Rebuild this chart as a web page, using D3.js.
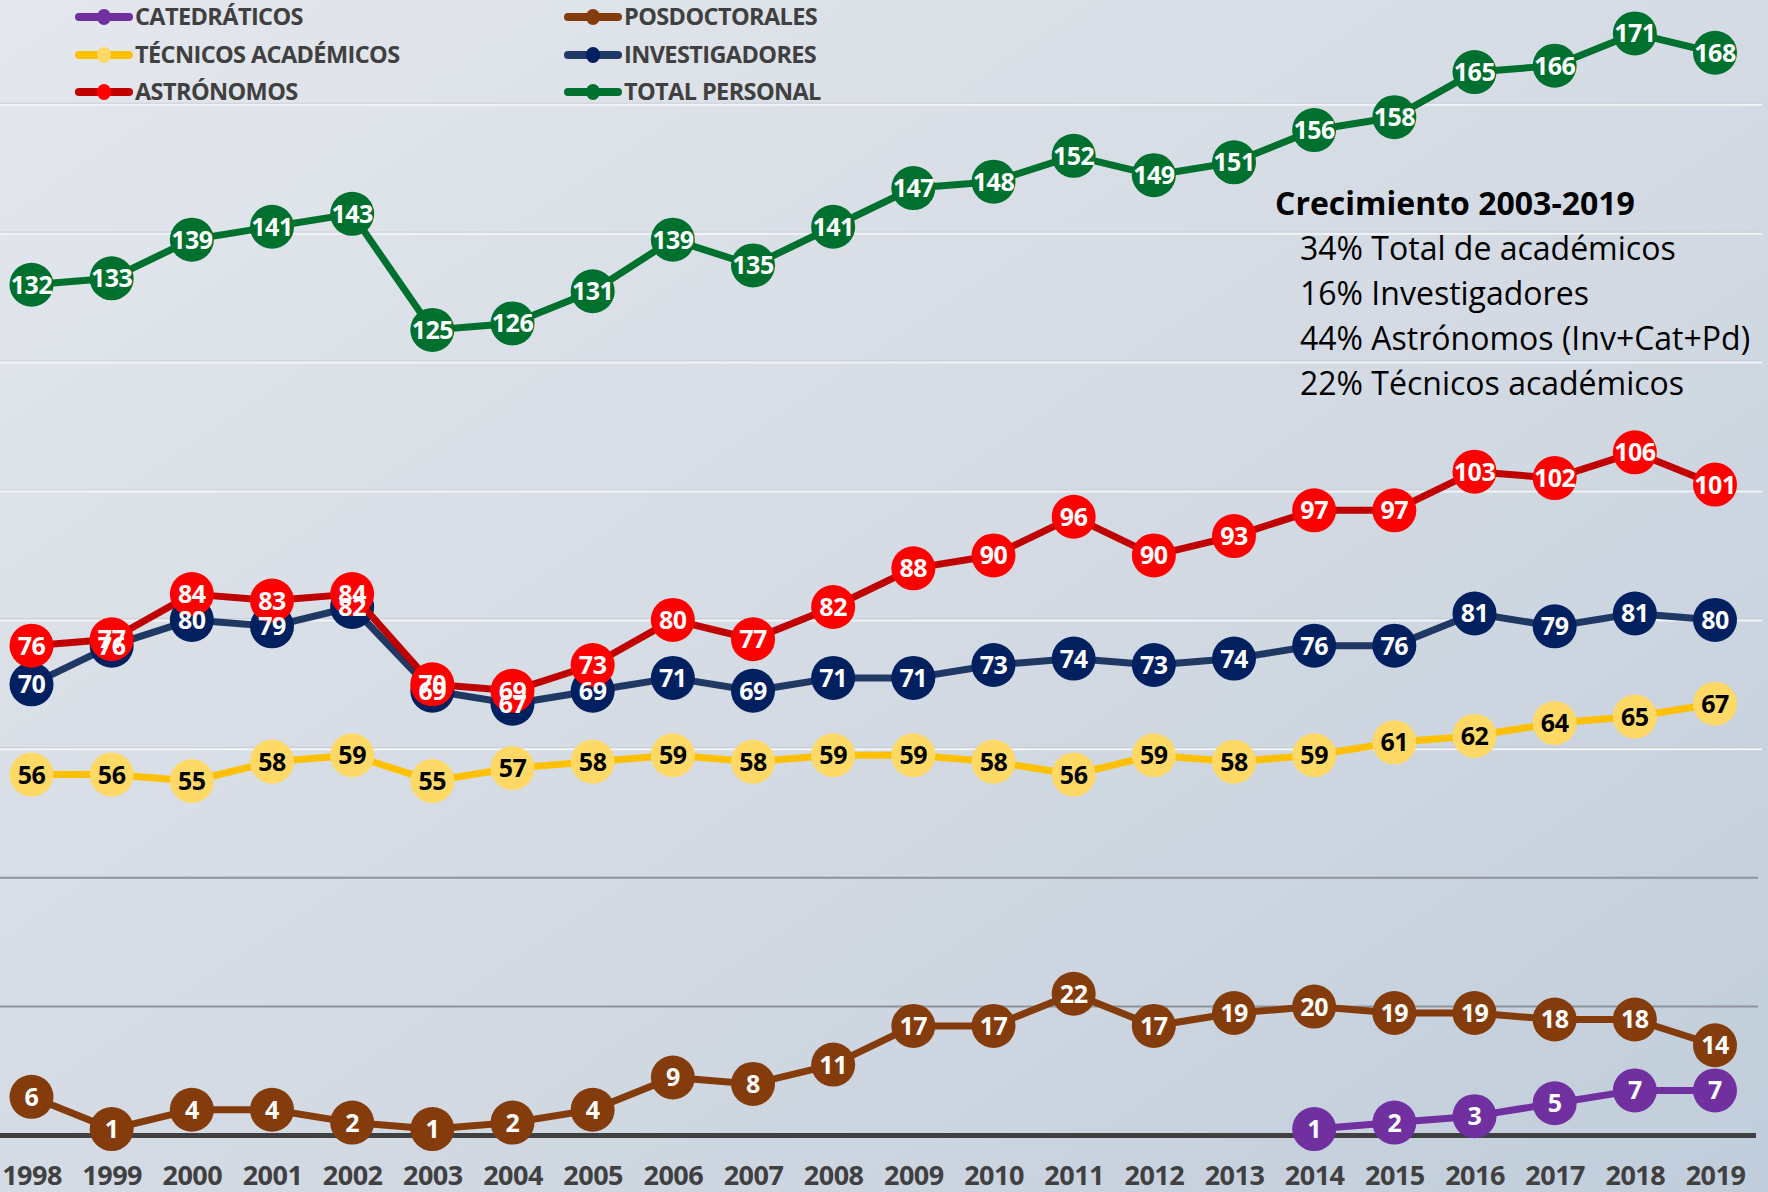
<!DOCTYPE html>
<html>
<head>
<meta charset="utf-8">
<script src="https://cdn.jsdelivr.net/npm/d3@7"></script>
<style>
  body { margin: 0; }
  svg { display: block; font-family: "Open Sans", sans-serif; }
</style>
</head>
<body>
<svg id="chart"></svg>
<script>
// Data
const years = [1998, 1999, 2000, 2001, 2002, 2003, 2004, 2005, 2006, 2007, 2008,
               2009, 2010, 2011, 2012, 2013, 2014, 2015, 2016, 2017, 2018, 2019];
const catedraticos = [null, null, null, null, null, null, null, null, null, null, null,
                      null, null, null, null, null, 1, 2, 3, 5, 7, 7];
const posdoctorales = [6, 1, 4, 4, 2, 1, 2, 4, 9, 8, 11, 17, 17, 22, 17, 19, 20, 19, 19, 18, 18, 14];
const tecnicos = [56, 56, 55, 58, 59, 55, 57, 58, 59, 58, 59, 59, 58, 56, 59, 58, 59, 61, 62, 64, 65, 67];
const investigadores = [70, 76, 80, 79, 82, 69, 67, 69, 71, 69, 71, 71, 73, 74, 73, 74, 76, 76, 81, 79, 81, 80];
const astronomos = [76, 77, 84, 83, 84, 70, 69, 73, 80, 77, 82, 88, 90, 96, 90, 93, 97, 97, 103, 102, 106, 101];
const totalPersonal = [132, 133, 139, 141, 143, 125, 126, 131, 139, 135, 141, 147, 148, 152, 149, 151, 156, 158, 165, 166, 171, 168];
const yTicks = [20, 40, 60, 80, 100, 120, 140, 160];
const noteTitle = "Crecimiento 2003-2019";
const noteLines = ["34% Total de académicos", "16% Investigadores",
                   "44% Astrónomos (Inv+Cat+Pd)", "22% Técnicos académicos"];

// series in legend order (row by row, two columns)
const series = [
  { name: "CATEDRÁTICOS", values: catedraticos, line: "#7030a0", dot: "#7030a0", text: "#fff" },
  { name: "POSDOCTORALES", values: posdoctorales, line: "#843c0c", dot: "#843c0c", text: "#fff" },
  { name: "TÉCNICOS ACADÉMICOS", values: tecnicos, line: "#ffc000", dot: "#ffd966", text: "#000" },
  { name: "INVESTIGADORES", values: investigadores, line: "#203864", dot: "#002060", text: "#fff" },
  { name: "ASTRÓNOMOS", values: astronomos, line: "#c00000", dot: "#ff0000", text: "#fff" },
  { name: "TOTAL PERSONAL", values: totalPersonal, line: "#00702f", dot: "#00702f", text: "#fff" }
];

const W = 1768, H = 1192;

const svg = d3.select("#chart")
  .attr("width", W)
  .attr("height", H);

// background gradient
const defs = svg.append("defs");
const grad = defs.append("linearGradient")
  .attr("id", "bg")
  .attr("x1", "0").attr("y1", "0")
  .attr("x2", "1").attr("y2", "1");
grad.append("stop").attr("offset", "0%").attr("stop-color", "#e4e7ed");
grad.append("stop").attr("offset", "55%").attr("stop-color", "#d3dae3");
grad.append("stop").attr("offset", "100%").attr("stop-color", "#c1cddb");
svg.append("rect").attr("width", W).attr("height", H).attr("fill", "url(#bg)");

// Scales
const x = d3.scaleLinear()
  .domain([1998, 2019])
  .range([31.5, 1715]);

const y = d3.scaleLinear()
  .domain([0, 180])
  .range([1135.5, -24.6]);

// gridlines
const grid = svg.append("g").attr("class", "grid");
yTicks.forEach(t => {
  if (t <= 40) {
    grid.append("line")
      .attr("x1", 0).attr("x2", 1758)
      .attr("y1", y(t)).attr("y2", y(t))
      .attr("stroke", "#8e939b").attr("stroke-width", 2);
  } else {
    grid.append("line")
      .attr("x1", 0).attr("x2", 1762)
      .attr("y1", y(t) - 1).attr("y2", y(t) - 1)
      .attr("stroke", "#c3c8cf").attr("stroke-width", 1);
    grid.append("line")
      .attr("x1", 0).attr("x2", 1762)
      .attr("y1", y(t) + 0.5).attr("y2", y(t) + 0.5)
      .attr("stroke", "#f2f4f7").attr("stroke-width", 2);
  }
});

// baseline
svg.append("line")
  .attr("x1", 0).attr("x2", 1756)
  .attr("y1", y(0)).attr("y2", y(0))
  .attr("stroke", "#404040").attr("stroke-width", 5);

// x axis labels
const xAxis = d3.axisBottom(x)
  .tickValues(years)
  .tickFormat(d3.format("d"))
  .tickSize(0)
  .tickPadding(0);

const xg = svg.append("g")
  .attr("transform", "translate(0, 1185)")
  .call(xAxis);
xg.select(".domain").remove();
xg.selectAll("text")
  .attr("dy", 0)
  .attr("y", 0)
  .attr("fill", "#404040")
  .style("font-family", "'Open Sans', sans-serif")
  .style("font-size", "27px")
  .style("font-weight", 700)
  .style("letter-spacing", "-0.5px");

// lines and markers
const line = d3.line()
  .defined(d => d.v != null)
  .x(d => x(d.year))
  .y(d => y(d.v));

const R = 22;

series.forEach(s => {
  const pts = years.map((yr, i) => ({ year: yr, v: s.values[i] }));
  svg.append("path")
    .datum(pts)
    .attr("fill", "none")
    .attr("stroke", s.line)
    .attr("stroke-width", 7)
    .attr("stroke-linejoin", "round")
    .attr("d", line);

  svg.append("g")
    .selectAll("circle")
    .data(pts.filter(d => d.v != null))
    .enter()
    .append("circle")
    .attr("cx", d => x(d.year))
    .attr("cy", d => y(d.v))
    .attr("r", R)
    .attr("fill", s.dot);
});

// data labels on top of all markers
series.forEach(s => {
  const pts = years.map((yr, i) => ({ year: yr, v: s.values[i] }));
  svg.append("g")
    .selectAll("text")
    .data(pts.filter(d => d.v != null))
    .enter()
    .append("text")
    .attr("x", d => x(d.year))
    .attr("y", d => y(d.v))
    .attr("dy", "0.36em")
    .attr("text-anchor", "middle")
    .attr("fill", s.text)
    .style("font-size", "25px")
    .style("font-weight", 700)
    .style("letter-spacing", "-0.5px")
    .text(d => d.v);
});

// legend
const legendX = [75, 564];
const legendY = [17, 55, 92];
const legend = svg.append("g").attr("class", "legend");
series.forEach((s, i) => {
  const lx = legendX[i % 2];
  const ly = legendY[Math.floor(i / 2)];
  const item = legend.append("g").attr("transform", `translate(${lx}, ${ly})`);
  item.append("line")
    .attr("x1", 4).attr("x2", 54)
    .attr("y1", 0).attr("y2", 0)
    .attr("stroke", s.line)
    .attr("stroke-width", 8)
    .attr("stroke-linecap", "round");
  item.append("ellipse")
    .attr("cx", 29).attr("cy", 0)
    .attr("rx", 7).attr("ry", 8)
    .attr("fill", s.dot);
  item.append("text")
    .attr("x", 60)
    .attr("y", 0)
    .attr("dy", "0.36em")
    .attr("fill", "#404040")
    .style("font-size", "23.5px")
    .style("font-weight", 700)
    .style("letter-spacing", "-0.6px")
    .text(s.name);
});

// annotation
const note = svg.append("g").attr("class", "note");
note.append("text")
  .attr("x", 1275)
  .attr("y", 215)
  .attr("fill", "#000")
  .style("font-size", "32px")
  .style("font-weight", 700)
  .text(noteTitle);
note.selectAll("text.line")
  .data(noteLines)
  .enter()
  .append("text")
  .attr("class", "line")
  .attr("x", 1300)
  .attr("y", (d, i) => 260 + i * 45)
  .attr("fill", "#000")
  .style("font-size", "32px")
  .style("font-weight", 400)
  .text(d => d);
</script>
</body>
</html>
